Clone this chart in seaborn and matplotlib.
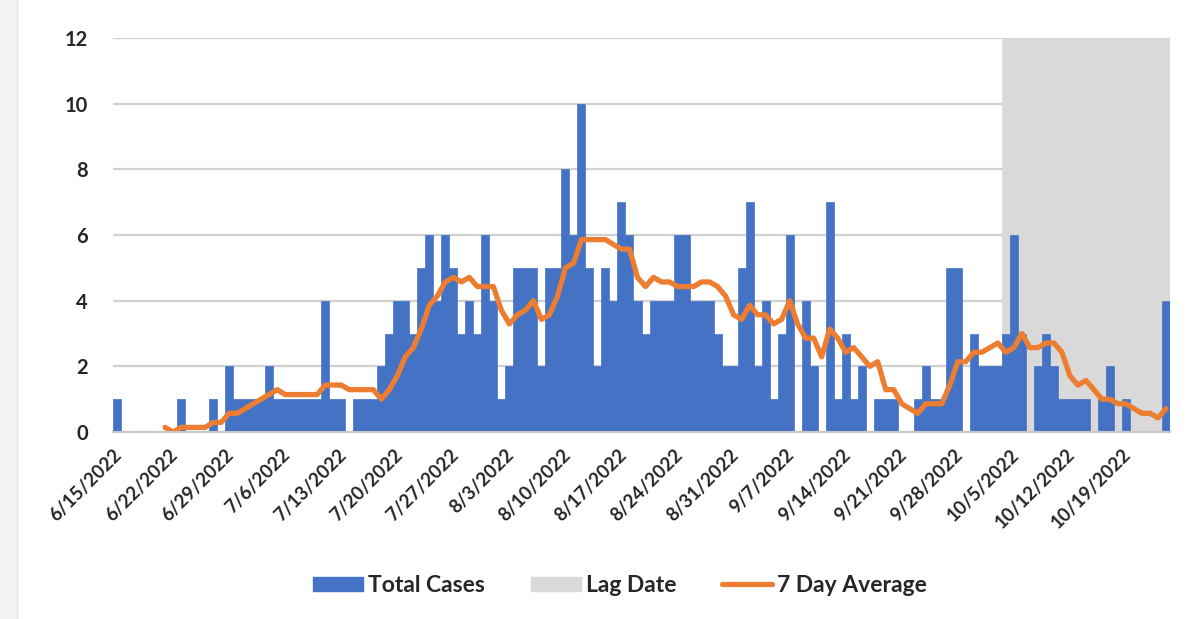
import seaborn as sns
import matplotlib.pyplot as plt
import matplotlib.transforms as mtransforms
import pandas as pd
import numpy as np
from matplotlib.patches import Patch, Rectangle
from matplotlib.lines import Line2D

# daily data, first day = 6/15/2022
start_date = '2022-06-15'
total_cases = [1, 0, 0, 0, 0, 0, 0, 0, 1, 0, 0, 0, 1, 0, 2, 1, 1, 1, 1, 2,
               1, 1, 1, 1, 1, 1, 4, 1, 1, 0, 1, 1, 1, 2, 3, 4, 4, 3, 5, 6,
               4, 6, 5, 3, 4, 3, 6, 4, 1, 2, 5, 5, 5, 2, 5, 5, 8, 6, 10, 5,
               2, 5, 4, 7, 6, 4, 3, 4, 4, 4, 6, 6, 4, 4, 4, 3, 2, 2, 5, 7,
               2, 4, 1, 3, 6, 0, 4, 2, 0, 7, 1, 3, 1, 2, 0, 1, 1, 1, 0, 0,
               1, 2, 1, 1, 5, 5, 0, 3, 2, 2, 2, 3, 6, 3, 0, 2, 3, 2, 1, 1,
               1, 1, 0, 1, 2, 0, 1, 0, 0, 0, 0, 4]
seven_day_avg = [None, None, None, None, None, None,
                 0.14, 0.00, 0.14, 0.14, 0.14, 0.14, 0.29, 0.29, 0.57, 0.57,
                 0.71, 0.86, 1.00, 1.14, 1.29, 1.14, 1.14, 1.14, 1.14, 1.14,
                 1.43, 1.43, 1.43, 1.29, 1.29, 1.29, 1.29, 1.00, 1.29, 1.71,
                 2.29, 2.57, 3.14, 3.86, 4.14, 4.57, 4.71, 4.57, 4.71, 4.43,
                 4.43, 4.43, 3.71, 3.29, 3.57, 3.71, 4.00, 3.43, 3.57, 4.14,
                 5.00, 5.14, 5.86, 5.86, 5.86, 5.86, 5.71, 5.57, 5.57, 4.71,
                 4.43, 4.71, 4.57, 4.57, 4.43, 4.43, 4.43, 4.57, 4.57, 4.43,
                 4.14, 3.57, 3.43, 3.86, 3.57, 3.57, 3.29, 3.43, 4.00, 3.29,
                 2.86, 2.86, 2.29, 3.14, 2.86, 2.43, 2.57, 2.29, 2.00, 2.14,
                 1.29, 1.29, 0.86, 0.71, 0.57, 0.86, 0.86, 0.86, 1.43, 2.14,
                 2.14, 2.43, 2.43, 2.57, 2.71, 2.43, 2.57, 3.00, 2.57, 2.57,
                 2.71, 2.71, 2.43, 1.71, 1.43, 1.57, 1.29, 1.00, 1.00, 0.86,
                 0.86, 0.71, 0.57, 0.57, 0.43, 0.71]
lag_start = '2022-10-04'
lag_height = 12
y_ticks = [0, 2, 4, 6, 8, 10, 12]

dates = pd.date_range(start_date, periods=len(total_cases), freq='D')
df = pd.DataFrame({'date': dates, 'cases': total_cases,
                   'avg': pd.to_numeric(pd.Series(seven_day_avg), errors='coerce')})
df['day'] = np.arange(len(df))
df['lag'] = np.where(df['date'] >= pd.Timestamp(lag_start), lag_height, 0)

sns.set_style('white')
plt.rcParams['font.family'] = ['Lato', 'DejaVu Sans']

blue, orange, grey = '#4472C4', '#ED7D31', '#D9D9D9'

fig = plt.figure(figsize=(11.99, 6.19), dpi=100)
ax = fig.add_axes([113 / 1199, 1 - 432 / 619, (1170 - 113) / 1199, (432 - 38) / 619])

sns.barplot(data=df, x='day', y='lag', color=grey, width=1, saturation=1,
            errorbar=None, ax=ax, edgecolor=grey, linewidth=0.5)
sns.barplot(data=df, x='day', y='cases', color=blue, width=1, saturation=1,
            errorbar=None, ax=ax, edgecolor=blue, linewidth=0.5)
sns.lineplot(data=df, x='day', y='avg', color=orange, lw=3.8, ax=ax,
             solid_joinstyle='round', solid_capstyle='round')

ax.set_xlim(-0.5, len(df) - 0.5)
ax.set_ylim(0, 12)
ax.set_yticks(y_ticks)
ax.set_yticklabels([str(v) for v in y_ticks], fontsize=14.5, fontweight='bold')
week_idx = np.arange(0, len(df), 7)
ax.set_xticks(week_idx - 0.5)
ax.set_xticklabels([f'{d.month}/{d.day}/{d.year}' for d in dates[week_idx]],
                   rotation=45, ha='right', rotation_mode='anchor',
                   fontsize=13.5, fontweight='bold')
offset = mtransforms.ScaledTranslation(11 / 100, -2 / 100, fig.dpi_scale_trans)
for lab in ax.get_xticklabels():
    lab.set_transform(lab.get_transform() + offset)

ax.set_xlabel('')
ax.set_ylabel('')
ax.set_axisbelow(True)
ax.yaxis.grid(True, color='#D0D0D0', lw=1.6)
ax.xaxis.grid(False)
for s in ['top', 'right', 'left']:
    ax.spines[s].set_visible(False)
ax.spines['bottom'].set_color('#C8C8C8')
ax.spines['bottom'].set_linewidth(1.5)
ax.tick_params(axis='x', direction='out', length=6, width=1.2, color='#C8C8C8', pad=4)
ax.tick_params(axis='y', length=0, pad=18)

handles = [Patch(color=blue, label='Total Cases'),
           Patch(color=grey, label='Lag Date'),
           Line2D([], [], color=orange, lw=3.8, label='7 Day Average')]
fig.legend(handles=handles, loc='center', bbox_to_anchor=(0.517, 0.054), ncol=3,
           frameon=False, prop={'weight': 'bold', 'size': 16.5},
           handlelength=2.2, handleheight=0.6, columnspacing=2.0, handletextpad=0.2)

# slide frame on the left
fig.patches.append(Rectangle((0, 0), 17 / 1199, 1, transform=fig.transFigure,
                             color='#F4F4F4', zorder=-1))
fig.add_artist(Line2D([17 / 1199, 17 / 1199], [0, 1], transform=fig.transFigure,
                      color='#E2E2E2', lw=1))

fig.savefig('out.png', dpi=100)
